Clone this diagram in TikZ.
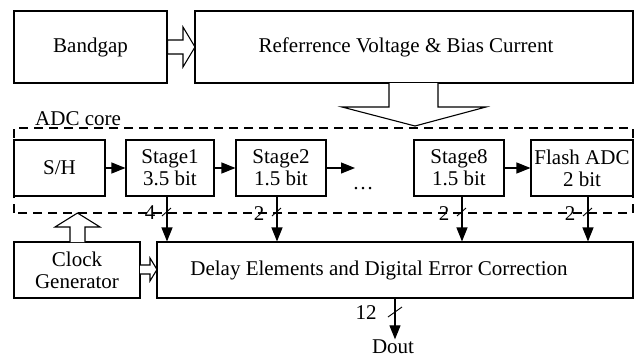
\documentclass[tikz,border=0pt]{standalone}
\usepackage{fontspec}
\setmainfont{Liberation Serif}
\usetikzlibrary{arrows.meta}
\begin{document}
\begin{tikzpicture}[x=1pt,y=-1pt,
  font=\fontsize{21}{22}\selectfont,
  blk/.style={draw, line width=1.1pt, inner sep=0pt},
  txt/.style={inner sep=0pt, align=center},
  sig/.style={-{Triangle[length=14pt,width=11pt]}, line width=1.1pt},
  hollow/.style={draw, line width=1.1pt, fill=white, line join=miter},
  slashmark/.style={line width=0.9pt},
  dsh/.style={dash pattern=on 9pt off 6pt, line width=1.1pt}]
\useasboundingbox (0,0) rectangle (638,357);

% dashed ADC core frame
\draw[dsh] (14,213) -- (14,128) -- (633,128) -- (633,213) -- cycle;
\node[txt, anchor=base west] (core) at (35,125) {ADC core};

% top blocks
\node[blk, minimum width=153pt, minimum height=72pt] (bg) at (90.5,47) {};
\node[txt] (bgt) at (90.5,47) {Bandgap};
\node[blk, minimum width=438pt, minimum height=72pt] (ref) at (414,47) {};
\node[txt] (reft) at (406,47) {Referrence Voltage \& Bias Current};

% pipeline blocks
\node[blk, minimum width=91pt, minimum height=56pt] (sh) at (59.5,168) {};
\node[txt] (sht) at (59.5,168) {S/H};
\node[blk, minimum width=88pt, minimum height=56pt] (s1) at (170,168) {};
\node[txt] (s1t) at (170,168) {Stage1\\3.5 bit};
\node[blk, minimum width=90pt, minimum height=56pt] (s2) at (281,168) {};
\node[txt] (s2t) at (281,168) {Stage2\\1.5 bit};
\node[txt, anchor=base] (dots) at (363,189) {\dots};
\coordinate (s2end) at (355,168);
\node[blk, minimum width=90pt, minimum height=56pt] (s8) at (459,168) {};
\node[txt] (s8t) at (459,168) {Stage8\\1.5 bit};
\node[blk, minimum width=102pt, minimum height=56pt] (fl) at (582,168) {};
\node[txt] (flt) at (582,168) {Flash ADC\\2 bit};

% bottom blocks
\node[blk, minimum width=126pt, minimum height=56pt] (ck) at (77,270) {};
\node[txt] (ckt) at (77,270) {Clock\\Generator};
\node[blk, minimum width=476pt, minimum height=56pt] (dl) at (395,270) {};
\node[txt] (dlt) at (379,270) {Delay Elements and Digital Error Correction};

% horizontal signal arrows
\draw[sig] (sh.east) -- (s1.west);
\draw[sig] (s1.east) -- (s2.west);
\draw[sig] (s2.east) -- (s2end);
\draw[sig] (s8.east) -- (fl.west);

% vertical bus arrows with slash marks
\draw[sig] ([xshift=-3pt]s1.south) -- ([xshift=-3pt]s1.south |- dl.north);
\draw[slashmark] (162,216) -- (171,208);
\node[txt] (n4) at (150,213) {4};

\draw[sig] ([xshift=-4pt]s2.south) -- ([xshift=-4pt]s2.south |- dl.north);
\draw[slashmark] (272,216) -- (281,208);
\node[txt] (n2a) at (259,214) {2};

\draw[sig] ([xshift=3pt]s8.south) -- ([xshift=3pt]s8.south |- dl.north);
\draw[slashmark] (457,216) -- (466,208);
\node[txt] (n2b) at (444,214) {2};

\draw[sig] ([xshift=6pt]fl.south) -- ([xshift=6pt]fl.south |- dl.north);
\draw[slashmark] (583,216) -- (592,208);
\node[txt] (n2c) at (570,214) {2};

% output
\node[txt] (dout) at (393,346.5) {Dout};
\draw[sig] (dl.south) -- (dout.north -| dl.south);
\draw[slashmark] (388,317) -- (402,307);
\node[txt] (n12) at (366,313) {12};

% hollow arrows
\draw[hollow] (167.5,40) -- (183,40) -- (183,27) -- (195,47) -- (183,67) -- (183,54) -- (167.5,54) -- cycle;
\draw[hollow] (389,83) -- (389,107) -- (342,107) -- (415,126) -- (486,107) -- (438,107) -- (438,83);
\draw[hollow] (70,242) -- (70,227) -- (55,227) -- (77.5,213) -- (100,227) -- (85,227) -- (85,242);
\draw[hollow] (140,265) -- (150,265) -- (150,258) -- (157,269.5) -- (150,281) -- (150,274) -- (140,274);
\end{tikzpicture}
\end{document}
